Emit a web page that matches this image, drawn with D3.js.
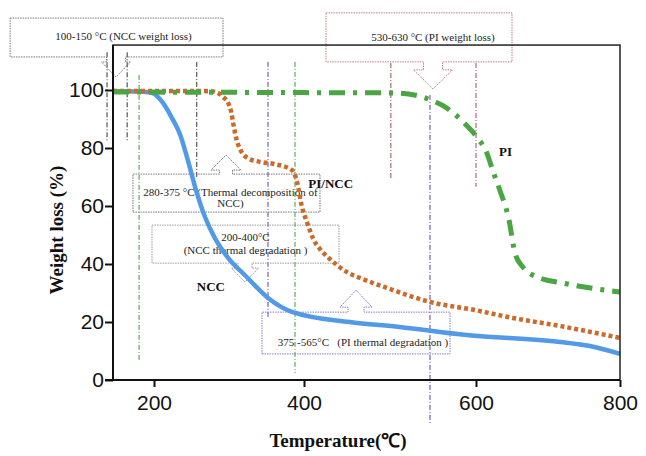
<!DOCTYPE html>
<html><head><meta charset="utf-8">
<script src="https://cdn.jsdelivr.net/npm/d3@7"></script>
<style>
html,body{margin:0;padding:0;background:#fff;}
svg{display:block;}
</style></head>
<body>
<svg id="chart" width="646" height="456"></svg>
<script>
// ---------------- DATA ----------------
const xTicks = [200, 400, 600, 800];
const yTicks = [0, 20, 40, 60, 80, 100];
const xBreaks = [145, 200, 400, 600, 800];   // axis break values (temperature)

const nccTemp = [145,181,197,211,224,235,245,256,268,281,301,321,352,385,453,511,589,717,758,800];
const nccLoss = [99.6,99.5,99,95.9,90.3,84.5,75.9,65.5,56.2,49,41.4,36.2,28.3,23.4,20,18.3,15.5,13.1,11.7,9];

const pincTemp = [145,275,285,292,299,303,306,310,316,325,340,360,384,391,397,404,411,419,428,438,451,465,497,547,599,651,717,800];
const pincLoss = [99.7,99.6,99,97.6,95.5,92.4,88,83,79,76.5,75.3,74.5,72.4,68,60,54,48.5,45,42.3,39.7,37,35.2,31.7,26.9,24.1,21.4,18.6,14.5];

const piTemp = [145,300,400,500,530,547,566,585,601,615,623,633,646,654,665,685,721,800];
const piLoss = [99.3,99.2,99.1,99,98.2,96.6,93.8,89,83.8,78.3,72.4,65.5,55,43.8,39,35.5,33.4,30.3];

const seriesNames = ["NCC", "PI/NCC", "PI"];
const labelTemp = [257, 405, 632];
const labelLoss = [30.7, 66.2, 77.2];

// guide lines: temperature, from-loss, to-loss, group
const guideTemp = [137, 164, 180, 257, 352, 388, 501, 546.5, 600];
const guideFrom = [113, 113, 105.2, 109.7, 109.7, 109.7, 109.3, 98.3, 109.3];
const guideTo   = [82, 82, 6.9, 70, 21.4, 2.4, 69, -14.8, 66.6];
const guideGroup = ["k","k","g","k","p","g","r","p","r"];

// annotation boxes (temperature / loss coordinates)
const annText = [
  ["100-150 °C (NCC weight loss)"],
  ["530-630 °C (PI weight loss)"],
  ["280-375 °C (Thermal decomposition of", "NCC)"],
  ["200-400°C", "(NCC thermal degradation )"],
  ["375 -565°C   (PI thermal degradation )"]
];
const annT0 = [7, 425.6, 171.8, 197.3, 344];
const annT1 = [292, 650, 418.6, 440.7, 569.8];
const annLossLo = [111.4, 109.7, 57.9, 40.3, 9.0];
const annLossHi = [124.8, 126.6, 71.0, 53.4, 23.4];
const annTipT = [149, 550, 296, 321.3, 460.5];
const annTipLoss = [104.5, 100.3, 77.6, 33.8, 31.0];
const annGroup = ["k", "r", "k", "k2", "p"];

// ---------------- LAYOUT / STYLE ----------------
const svg = d3.select("#chart");
const x = d3.scaleLinear().domain(xBreaks).range([113, 154, 304, 476, 620]);
const y = d3.scaleLinear().domain([0, 100]).range([380, 90]);
const frameTop = 115.5;

const guideColor = {k:"#333", g:"#3c9a3c", p:"#5a3fb0", r:"#a04a5a"};
const annColor = {k:"#777", k2:"#999", r:"#c27c84", p:"#8a7acc"};
const annShape = [
  {side:"bottom", sw:9.5, hw:14.5, s:5, tdx:7, tdy:[18]},
  {side:"bottom", sw:9.5, hw:19.5, s:8, tdx:14, tdy:[24]},
  {side:"top", sw:6.5, hw:15, s:4, tdx:4, tdy:[18,29.5]},
  {side:"bottom", sw:7, hw:13.5, s:5, tdx:0, tdy:[12,25]},
  {side:"top", sw:8, hw:16, s:5, tdx:7, tdy:[30]}
];

// guide lines
svg.append("g").selectAll("line").data(guideTemp).join("line")
  .attr("x1", d => x(d)).attr("x2", d => x(d))
  .attr("y1", (d,i) => y(guideFrom[i])).attr("y2", (d,i) => y(guideTo[i]))
  .attr("stroke", (d,i) => guideColor[guideGroup[i]])
  .attr("stroke-width", 1)
  .attr("stroke-dasharray", "5,2,1,2");

// annotation boxes with block arrows
const ann = svg.append("g");
annText.forEach((lines, i) => {
  const x0 = x(annT0[i]), x1 = x(annT1[i]);
  const yT = y(annLossHi[i]), yB = y(annLossLo[i]);
  const cx = x(annTipT[i]), ty = y(annTipLoss[i]);
  const sh = annShape[i];
  let p;
  if (sh.side === "bottom") {
    p = `M${x0},${yT}H${x1}V${yB}H${cx+sh.sw}V${yB+sh.s}H${cx+sh.hw}L${cx},${ty}L${cx-sh.hw},${yB+sh.s}H${cx-sh.sw}V${yB}H${x0}Z`;
  } else {
    p = `M${x0},${yB}H${x1}V${yT}H${cx+sh.sw}V${yT-sh.s}H${cx+sh.hw}L${cx},${ty}L${cx-sh.hw},${yT-sh.s}H${cx-sh.sw}V${yT}H${x0}Z`;
  }
  ann.append("path").attr("d", p).attr("fill", "none")
    .attr("stroke", annColor[annGroup[i]]).attr("stroke-width", 1)
    .attr("stroke-dasharray", "1.5,1");
  lines.forEach((t, j) => {
    ann.append("text")
      .attr("x", (x0 + x1) / 2 + sh.tdx)
      .attr("y", yT + sh.tdy[j])
      .attr("dy", "0.35em")
      .attr("text-anchor", "middle")
      .attr("xml:space", "preserve")
      .style("font-family", "'Liberation Serif','Times New Roman',serif")
      .style("font-size", "11px")
      .style("fill", "#222")
      .text(t);
  });
});

// curves
const line = d3.line().x(d => x(d[0])).y(d => y(d[1])).curve(d3.curveMonotoneX);
const curves = [
  {t: nccTemp, v: nccLoss, color: "#5299e6", w: 4.5, dash: null},
  {t: pincTemp, v: pincLoss, color: "#cc6a2c", w: 4.5, dash: "4,3"},
  {t: piTemp, v: piLoss, color: "#4ba543", w: 5, dash: "16,8,4,8"}
];
curves.forEach(c => {
  svg.append("path")
    .datum(c.t.map((t, i) => [t, c.v[i]]))
    .attr("d", line)
    .attr("fill", "none")
    .attr("stroke", c.color)
    .attr("stroke-width", c.w)
    .attr("stroke-dasharray", c.dash);
});

// series labels
svg.append("g").selectAll("text").data(seriesNames).join("text")
  .attr("x", (d,i) => x(labelTemp[i]))
  .attr("y", (d,i) => y(labelLoss[i]))
  .style("font-family", "'Liberation Serif','Times New Roman',serif")
  .style("font-size", "13px").style("font-weight", "bold").style("fill", "#111")
  .text(d => d);

// frame
svg.append("rect")
  .attr("x", x(145)).attr("y", y(frameTop))
  .attr("width", x(800) - x(145)).attr("height", y(0) - y(frameTop))
  .attr("fill", "none").attr("stroke", "#222").attr("stroke-width", 1.5);

// axes
const yAxis = svg.append("g").attr("transform", `translate(${x(145)},0)`)
  .call(d3.axisLeft(y).tickValues(yTicks).tickSize(8).tickSizeOuter(0).tickPadding(1));
const xAxis = svg.append("g").attr("transform", `translate(0,${y(0)})`)
  .call(d3.axisBottom(x).tickValues(xTicks).tickSize(7).tickSizeOuter(0).tickPadding(8));
[yAxis, xAxis].forEach(g => {
  g.select(".domain").attr("stroke", "#111").attr("stroke-width", 2);
  g.selectAll(".tick line").attr("stroke", "#111").attr("stroke-width", 2);
  g.selectAll(".tick text")
    .style("font-family", "'Liberation Sans',Arial,sans-serif")
    .style("font-size", "21px").style("fill", "#111");
});
yAxis.select(".domain").attr("d", `M0,${y(0)}V${y(frameTop)}`);
xAxis.select(".domain").attr("d", `M${x(145) - 8},0H${x(800)}`);

// axis titles
svg.append("text")
  .attr("transform", `translate(56,${(y(0) + y(100)) / 2 - 5}) rotate(-90)`)
  .attr("text-anchor", "middle").attr("dy", "0.35em")
  .style("font-family", "'Liberation Serif','Times New Roman',serif")
  .style("font-size", "19px").style("font-weight", "bold").style("fill", "#111")
  .text("Weight loss (%)");
svg.append("text")
  .attr("x", 338).attr("y", 447)
  .attr("text-anchor", "middle")
  .style("font-family", "'Liberation Serif','Times New Roman',serif")
  .style("font-size", "19px").style("font-weight", "bold").style("fill", "#111")
  .text("Temperature(℃)");
</script>
</body></html>
